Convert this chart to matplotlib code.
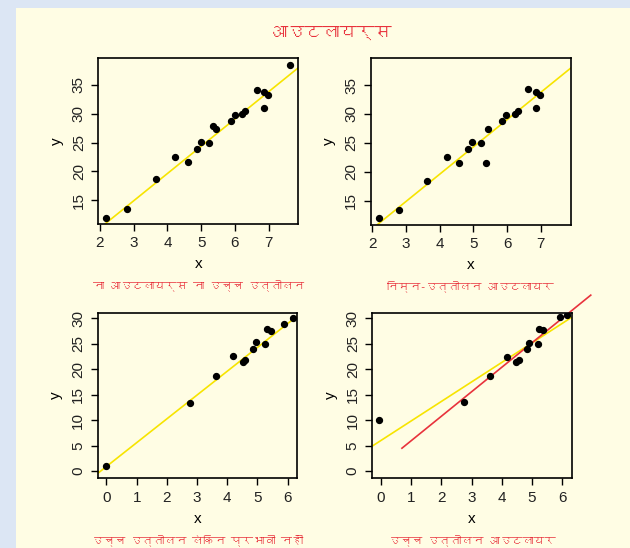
import matplotlib
matplotlib.use("Agg")
import matplotlib.pyplot as plt
from matplotlib import font_manager
from matplotlib.ft2font import FT2Font
from matplotlib.patches import Rectangle


def deva_font():
    # first installed font that has Devanagari glyphs, else DejaVu
    for f in font_manager.fontManager.ttflist:
        try:
            if 0x0906 in FT2Font(f.fname).get_charmap():
                return f.name
        except Exception:
            pass
    return "DejaVu Sans"


TITLE = "आउटलायर्स"
SUBTITLES = [
    "ना आउटलायर्स ना उच्च उत्तोलन",
    "निम्न-उत्तोलन आउटलायर",
    "उच्च उत्तोलन लेकिन प्रभावी नहीं",
    "उच्च उत्तोलन आउटलायर",
]

# panel 1: no outlier, no high leverage
x1 = [2.19, 2.80, 3.66, 4.21, 4.60, 4.87, 4.99, 5.24, 5.34, 5.45, 5.89, 6.01,
      6.21, 6.31, 6.64, 6.87, 6.86, 6.98, 7.63]
y1 = [11.93, 13.43, 18.65, 22.54, 21.67, 23.81, 25.14, 24.91, 27.81, 27.35,
      28.74, 29.78, 30.01, 30.48, 34.19, 33.72, 30.94, 33.26, 38.54]

# panel 2: low-leverage outlier
x2 = [2.19, 2.79, 3.62, 4.22, 4.58, 4.83, 4.96, 5.22, 5.36, 5.43, 5.84, 5.97,
      6.24, 6.33, 6.62, 6.85, 6.85, 6.99]
y2 = [11.93, 13.43, 18.48, 22.54, 21.55, 23.93, 25.14, 24.97, 21.55, 27.46,
      28.80, 29.78, 30.07, 30.48, 34.25, 33.72, 31.00, 33.26]

# panel 3: high leverage, not influential
x3 = [-0.02, 2.78, 3.63, 4.19, 4.51, 4.59, 4.84, 4.96, 5.25, 5.32, 5.45, 5.87, 6.19]
y3 = [1.05, 13.42, 18.66, 22.59, 21.41, 21.81, 24.03, 25.34, 24.89, 27.96,
      27.50, 28.81, 30.06]

# panel 4: high leverage outlier
x4 = [-0.07, 2.74, 3.62, 4.17, 4.48, 4.56, 4.83, 4.91, 5.19, 5.22, 5.35, 5.91, 6.15]
y4 = [10.02, 13.49, 18.60, 22.46, 21.48, 21.74, 23.90, 25.21, 25.02, 27.83,
      27.77, 30.19, 30.58]

# fitted lines (intercept, slope)
fit_yellow = [(0.65, 4.74), (0.70, 4.72), (0.88, 4.68), (5.97, 3.84)]
fit_red = (1.10, 4.82)
red_xrange = [0.70, 6.94]

xs = [x1, x2, x3, x4]
ys = [y1, y2, y3, y4]
xlims = [(1.95, 7.87), (1.95, 7.89), (-0.29, 6.32), (-0.28, 6.31)]
ylims = [(10.83, 39.64), (10.83, 39.64), (-1.44, 31.1), (-1.44, 31.1)]
xticks = [range(2, 8), range(2, 8), range(0, 7), range(0, 7)]
yticks = [range(15, 40, 5), range(15, 40, 5), range(0, 35, 5), range(0, 35, 5)]

CREAM = "#fffde4"
BLUE = "#dce6f4"
RED = "#e8323c"
YELLOW = "#f7e400"

plt.rcParams["font.family"] = ["Liberation Sans", "DejaVu Sans"]

W, H = 630, 548
fig = plt.figure(figsize=(W / 100, H / 100), dpi=100, facecolor=BLUE)
fig.patches.append(Rectangle((16 / W, 0), 1 - 16 / W, 1 - 8 / H,
                             transform=fig.transFigure, facecolor=CREAM,
                             edgecolor="none", zorder=-5))

dfont = deva_font()
fig.text(332 / W, 1 - 33 / H, TITLE, color=RED, fontsize=12.5, ha="center",
         va="center", family=[dfont, "DejaVu Sans"])

# axes boxes in pixels: left, top, right, bottom
boxes = [(98.3, 58.3, 298, 224), (370.7, 58.3, 570.7, 224.7),
         (97.7, 312.7, 297.3, 478.3), (372.3, 312.7, 571.7, 478.3)]

for i in range(4):
    l, t, r, b = boxes[i]
    ax = fig.add_axes([l / W, 1 - b / H, (r - l) / W, (b - t) / H])
    ax.set_facecolor(CREAM)
    ax.scatter(xs[i], ys[i], s=18, color="black", zorder=3)
    a, m = fit_yellow[i]
    ax.axline((0, a), slope=m, color=YELLOW, lw=1.2, zorder=2)
    if i == 3:
        rx = red_xrange
        ax.plot(rx, [fit_red[0] + fit_red[1] * v for v in rx], color=RED,
                lw=1.2, clip_on=False, zorder=2)
    ax.set_xlim(*xlims[i])
    ax.set_ylim(*ylims[i])
    ax.set_xticks(list(xticks[i]))
    ax.set_yticks(list(yticks[i]))
    for lab in ax.get_yticklabels():
        lab.set_rotation(90)
        lab.set_va("center")
    ax.tick_params(labelsize=11, length=5, width=1, colors="black",
                   labelcolor="#222222", pad=4)
    for s in ax.spines.values():
        s.set_linewidth(1.2)
    ax.set_xlabel("x", fontsize=11, labelpad=5)
    ax.set_ylabel("y", fontsize=11, labelpad=6)
    ax.text(0.5, -0.37, SUBTITLES[i], transform=ax.transAxes, ha="center",
            va="center", color=RED, fontsize=8, family=[dfont, "DejaVu Sans"])

fig.savefig("out.png", dpi=100, facecolor=BLUE)
